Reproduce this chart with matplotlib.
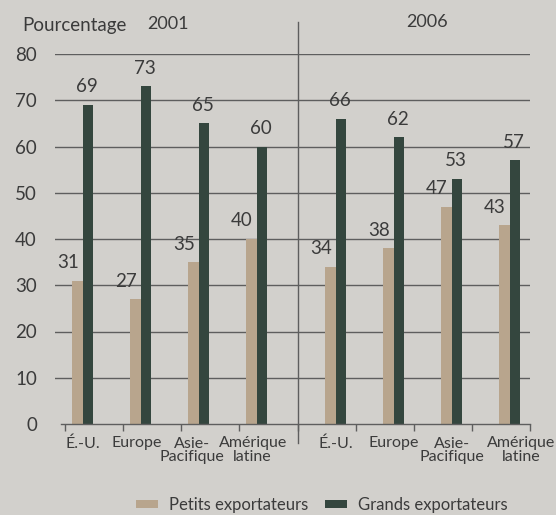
"""
Share of exports by small and large exporters, 2001 vs 2006.
Two panels drawn on one axes, split by a vertical rule.
"""

import numpy as np
import matplotlib
matplotlib.use("Agg")
import matplotlib.pyplot as plt
import matplotlib.transforms as mtransforms

# ---------------------------------------------------------------------------
# Data
# ---------------------------------------------------------------------------
years = ["2001", "2006"]
regions = ["É.-U.", "Europe", "Asie-\nPacifique", "Amérique\nlatine"]
small_2001 = [31, 27, 35, 40]
large_2001 = [69, 73, 65, 60]
small_2006 = [34, 38, 47, 43]
large_2006 = [66, 62, 53, 57]
series_labels = ["Petits exportateurs", "Grands exportateurs"]
y_ticks = [0, 10, 20, 30, 40, 50, 60, 70, 80]

# ---------------------------------------------------------------------------
# Style
# ---------------------------------------------------------------------------
BG = "#d2d0cc"
TAN = "#b8a58d"
DARK = "#34463e"
GRID = "#5e5e5e"
TEXT = "#3b3b3b"
BAR_W = 0.18
PANEL_GAP = 1.36          # distance from last 2001 group to first 2006 group
# horizontal nudge (in points) of each category label, as in the source
LABEL_NUDGE = [0, -3, -5, -3, 0, 0, 0, 8]

plt.rcParams["font.family"] = ["Lato", "DejaVu Sans"]
plt.rcParams["text.color"] = TEXT

fig = plt.figure(figsize=(5.56, 5.15), dpi=100, facecolor=BG)
ax = fig.add_axes([55 / 556, 91 / 515, 475 / 556, 370 / 515])
ax.set_facecolor(BG)

n = len(regions)
left_pos = np.arange(n, dtype=float)
right_pos = left_pos + (n - 1) + PANEL_GAP
centers = np.concatenate([left_pos, right_pos])
small = small_2001 + small_2006
large = large_2001 + large_2006

# gridlines (the zero line is the shorter x axis)
for yv in y_ticks[1:]:
    ax.axhline(yv, color=GRID, linewidth=1.0, zorder=1)

b_small = ax.bar(centers - BAR_W / 2, small, width=BAR_W, color=TAN, zorder=2,
                 label=series_labels[0])
b_large = ax.bar(centers + BAR_W / 2, large, width=BAR_W, color=DARK, zorder=2,
                 label=series_labels[1])

for rect, v in zip(b_small, small):
    ax.annotate(str(v), (rect.get_x() + rect.get_width() / 2, v),
                xytext=(-7, 9), textcoords="offset points",
                ha="center", va="baseline", fontsize=13.5, color=TEXT)
for rect, v in zip(b_large, large):
    ax.annotate(str(v), (rect.get_x() + rect.get_width() / 2, v),
                xytext=(-1, 9), textcoords="offset points",
                ha="center", va="baseline", fontsize=13.5, color=TEXT)

# axes limits
split = left_pos[-1] + 0.71
ax.set_xlim(left_pos[0] - 0.48, right_pos[-1] + 0.35)
ax.set_ylim(0, 80)

for s in ("top", "right", "left"):
    ax.spines[s].set_visible(False)
ax.spines["bottom"].set_bounds(left_pos[0] - 0.38, right_pos[-1] + 0.35)
ax.spines["bottom"].set_color(GRID)
ax.spines["bottom"].set_linewidth(1.0)

# panel divider
ax.axvline(split, ymin=-0.052, ymax=1.087, color=GRID, linewidth=1.0,
           clip_on=False, zorder=3)

# category labels (major) and boundary marks (minor)
ax.set_xticks(centers)
ax.set_xticklabels(regions * 2, fontsize=11.5, color=TEXT, linespacing=0.95)
ax.tick_params(axis="x", which="major", length=0, pad=9)
for lbl, dx in zip(ax.get_xticklabels(), LABEL_NUDGE):
    lbl.set_transform(lbl.get_transform() + mtransforms.ScaledTranslation(
        dx / 72, 0, fig.dpi_scale_trans))
marks = np.concatenate([left_pos - 0.31, [split], right_pos[:-1] + 0.35,
                        [right_pos[-1] + 0.35]])
ax.set_xticks(marks, minor=True)
ax.tick_params(axis="x", which="minor", length=5, width=1.0, color=GRID,
               direction="out")

ax.set_yticks(y_ticks)
ax.set_yticklabels([str(t) for t in y_ticks], fontsize=13.5, color=TEXT)
ax.tick_params(axis="y", length=0, pad=13)

# titles
fig.text(22 / 556, 1 - 25 / 515, "Pourcentage", fontsize=13.5, va="center",
         ha="left", color=TEXT)
fig.text(168 / 556, 1 - 24 / 515, years[0], fontsize=13, va="center",
         ha="center", color=TEXT)
fig.text(427 / 556, 1 - 22 / 515, years[1], fontsize=13, va="center",
         ha="center", color=TEXT)

fig.legend(handles=[b_small, b_large], labels=series_labels,
           loc="center", bbox_to_anchor=(322 / 556, 1 - 505 / 515),
           ncol=2, frameon=False, fontsize=12, handlelength=1.3,
           handleheight=0.4, handletextpad=0.7, columnspacing=1.0,
           labelcolor=TEXT, borderpad=0.2)

fig.savefig("out.png", dpi=100, facecolor=BG)
